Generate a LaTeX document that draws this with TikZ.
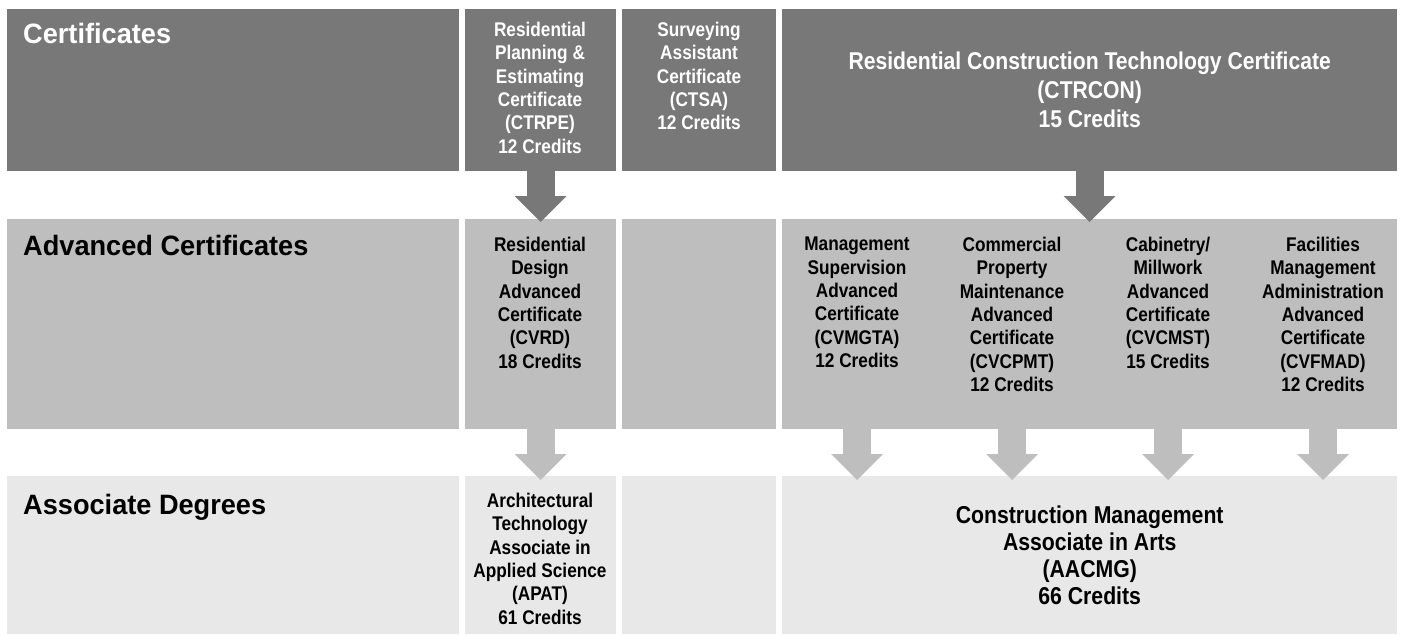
\documentclass[tikz,border=0pt]{standalone}
\usepackage{fontspec}
\setmainfont{Liberation Sans}[FakeStretch=0.87]
\newfontfamily\headfont{Liberation Sans}[FakeStretch=0.97]
\usepackage{xcolor}
\usetikzlibrary{arrows.meta,positioning}
\definecolor{certgray}{HTML}{787878}
\definecolor{advgray}{HTML}{BEBEBE}
\definecolor{assocgray}{HTML}{E8E8E8}

\begin{document}
\begin{tikzpicture}[x=1pt, y=-1pt, every node/.style={inner sep=0pt, font=\bfseries}, cell/.style={anchor=north west}, rowcert/.style={cell, fill=certgray, minimum height=162pt}, rowadv/.style={cell, fill=advgray, minimum height=210pt}, rowassoc/.style={cell, fill=assocgray, minimum height=158pt}, wA/.style={minimum width=452pt}, wB/.style={minimum width=151pt}, wC/.style={minimum width=154pt}, wD/.style={minimum width=615pt}, head/.style={anchor=base west, font=\headfont\bfseries\fontsize{28}{33}\selectfont}, lbl/.style={anchor=north, align=center, font=\bfseries\fontsize{19.8}{23.3}\selectfont}, bigtxt/.style={align=center, font=\bfseries\fontsize{24.3}{29}\selectfont}, degtxt/.style={align=center, font=\bfseries\fontsize{24.4}{27.2}\selectfont}, darr/.style={draw=certgray, line width=28pt, -{Triangle[width=52pt, length=26pt, line width=0pt]}, shorten >=-3pt}, larr/.style={draw=advgray, line width=28pt, -{Triangle[width=52pt, length=26pt, line width=0pt]}, shorten >=-4pt}]
\useasboundingbox (0,0) rectangle (1403,635);
\node[rowcert, wA] (certL) at (7,9) {};
\node[rowcert, wB] (certB) at (465,9) {};
\node[rowcert, wC] (certC) at (622,9) {};
\node[rowcert, wD, text=white, bigtxt] (certD) at (782,9) {Residential Construction Technology Certificate\\(CTRCON)\\15 Credits};
\node[rowadv, wA] (advL) at (7,219) {};
\node[rowadv, wB] (advB) at (465,219) {};
\node[rowadv, wC] (advC) at (622,219) {};
\node[rowadv, wD] (advD) at (782,219) {};
\node[rowassoc, wA] (assocL) at (7,476) {};
\node[rowassoc, wB] (assocB) at (465,476) {};
\node[rowassoc, wC] (assocC) at (622,476) {};
\node[rowassoc, wD, degtxt] (assocD) at (782,476) {Construction Management\\Associate in Arts\\(AACMG)\\66 Credits};
\node[head, text=white] (certH) at (23,43) {Certificates};
\node[head] (advH) at (23,255) {Advanced Certificates};
\node[head] (assocH) at (23,514) {Associate Degrees};
\node[lbl, text=white] (ctrpe) at (540,22) {Residential\\Planning \&\\Estimating\\Certificate\\(CTRPE)\\12 Credits};
\node[lbl, text=white] (ctsa) at (699,22) {Surveying\\Assistant\\Certificate\\(CTSA)\\12 Credits};
\node[lbl] (cvrd) at (540,237) {Residential\\Design\\Advanced\\Certificate\\(CVRD)\\18 Credits};
\node[lbl] (cvmgta) at (857,237) {Management\\Supervision\\Advanced\\Certificate\\(CVMGTA)\\12 Credits};
\node[lbl] (cvcpmt) at (1012,237) {Commercial\\Property\\Maintenance\\Advanced\\Certificate\\(CVCPMT)\\12 Credits};
\node[lbl] (cvcmst) at (1168,237) {Cabinetry/\\Millwork\\Advanced\\Certificate\\(CVCMST)\\15 Credits};
\node[lbl] (cvfmad) at (1323,237) {Facilities\\Management\\Administration\\Advanced\\Certificate\\(CVFMAD)\\12 Credits};
\node[lbl] (apat) at (540,493) {Architectural\\Technology\\Associate in\\Applied Science\\(APAT)\\61 Credits};
\draw[darr] (certB.south) -- (advB.north); \draw[darr] (certD.south) -- (advD.north);
\draw[larr] (advB.south) -- (assocB.north);
\draw[larr] (advD.south -| cvmgta) -- (assocD.north -| cvmgta); \draw[larr] (advD.south -| cvcpmt) -- (assocD.north -| cvcpmt); \draw[larr] (advD.south -| cvcmst) -- (assocD.north -| cvcmst); \draw[larr] (advD.south -| cvfmad) -- (assocD.north -| cvfmad);
\end{tikzpicture}
\end{document}
